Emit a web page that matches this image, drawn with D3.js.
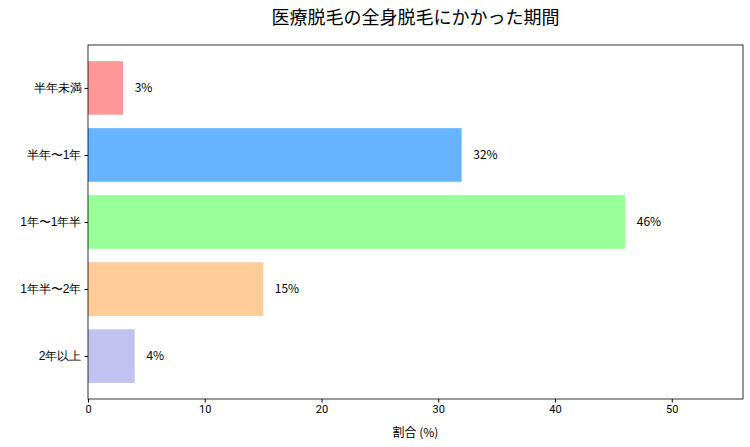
<!DOCTYPE html>
<html><head><meta charset="utf-8">
<script src="https://cdn.jsdelivr.net/npm/d3@7"></script>
<style>body{margin:0;background:#fff;font-family:"Noto Sans CJK JP","Noto Sans",sans-serif;}</style>
</head><body><div id="chart"></div>
<script>
const categories = ["半年未満", "半年〜1年", "1年〜1年半", "1年半〜2年", "2年以上"];
const values = [3, 32, 46, 15, 4];
const colors = ["#ff9999", "#66b3ff", "#99ff99", "#ffcc99", "#c2c2f0"];
const xTicks = [0, 10, 20, 30, 40, 50];

const width = 750, height = 447;
const margin = { top: 45, right: 7, bottom: 48, left: 88 };

const svg = d3.select("#chart").append("svg")
    .attr("width", width).attr("height", height);

const x = d3.scaleLinear().domain([0, 56.1]).range([margin.left, width - margin.right]);
// bar centers at index i, bar height 0.8, 5% margins like matplotlib
const y = d3.scaleLinear().domain([-0.64, 4.64]).range([margin.top, height - margin.bottom]);

svg.append("g")
    .selectAll("rect")
    .data(values)
    .join("rect")
    .attr("x", x(0))
    .attr("y", (d, i) => y(i - 0.4))
    .attr("width", d => x(d) - x(0))
    .attr("height", y(0.4) - y(-0.4))
    .attr("fill", (d, i) => colors[i]);

svg.append("g")
    .selectAll("text")
    .data(values)
    .join("text")
    .attr("x", d => x(d + 1))
    .attr("y", (d, i) => y(i))
    .attr("dy", "0.35em")
    .attr("font-size", 12)
    .text(d => d + "%");

svg.append("g")
    .attr("transform", `translate(0,${height - margin.bottom})`)
    .call(d3.axisBottom(x).tickValues(xTicks).tickSize(3.5).tickSizeOuter(0))
    .call(g => g.selectAll("text").attr("font-size", 11).attr("fill", "#000").attr("font-family", "Roboto, sans-serif"))
    .call(g => g.select(".domain").remove());

svg.append("g")
    .attr("transform", `translate(${margin.left},0)`)
    .call(d3.axisLeft(y).tickValues(d3.range(5)).tickFormat(i => categories[i]).tickSize(3.5).tickSizeOuter(0))
    .call(g => g.selectAll("text").attr("font-size", 12).attr("fill", "#000"))
    .call(g => g.select(".domain").remove());

svg.append("rect")
    .attr("x", margin.left).attr("y", margin.top)
    .attr("width", width - margin.left - margin.right)
    .attr("height", height - margin.top - margin.bottom)
    .attr("fill", "none").attr("stroke", "#000").attr("stroke-width", 0.8);

svg.append("text")
    .attr("x", (margin.left + width - margin.right) / 2)
    .attr("y", 437)
    .attr("text-anchor", "middle")
    .attr("font-size", 12)
    .text("割合 (%)");

svg.append("text")
    .attr("x", (margin.left + width - margin.right) / 2)
    .attr("y", 24)
    .attr("text-anchor", "middle")
    .attr("font-size", 18)
    .text("医療脱毛の全身脱毛にかかった期間");
</script></body></html>
